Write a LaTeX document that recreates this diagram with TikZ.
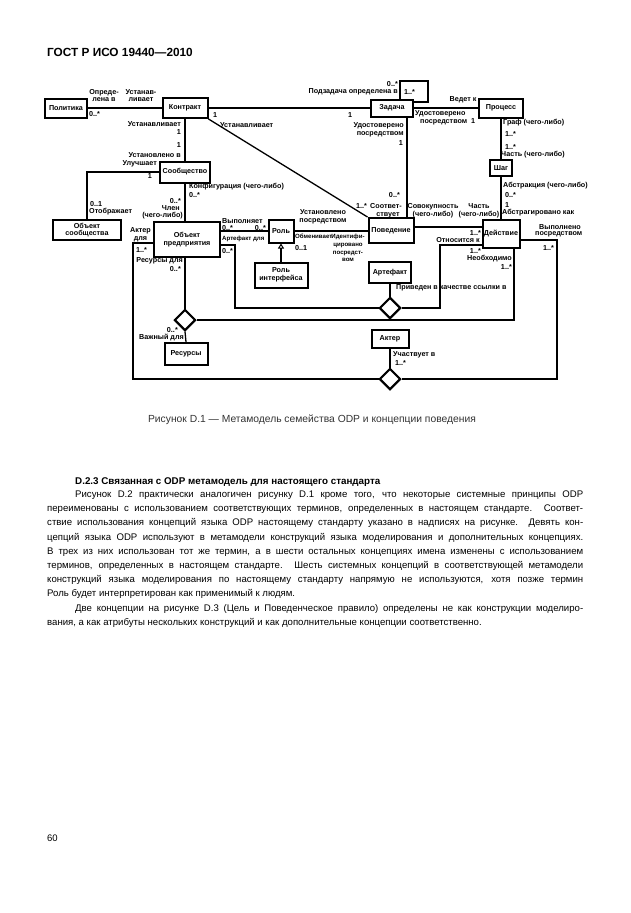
\documentclass[tikz,border=0pt]{standalone}
\usepackage{fontspec}
\setmainfont{Liberation Sans}
\usetikzlibrary{shapes.geometric,arrows.meta}
\newcommand\labf{\fontsize{7.2}{7.8}\selectfont\bfseries}
\newcommand\labs{\fontsize{6.1}{7.8}\selectfont\bfseries}
\newcommand\bodyf{\fontsize{9.6}{11}\selectfont}
\newcommand\jline[4]{\node[anchor=base west,inner sep=0pt] at (#2,#1) {\bodyf\makebox[#3pt][s]{#4}};}
\newcommand\lline[3]{\node[anchor=base west,inner sep=0pt] at (#2,#1) {\bodyf #3};}
\begin{document}
\begin{tikzpicture}[x=1pt,y=-1pt,
  ubox/.style={draw,line width=2pt,fill=white,inner sep=0pt,align=center,font=\labf},
  conn/.style={line width=1.3pt},
  dia/.style={draw,diamond,line width=2pt,fill=white,inner sep=0pt,minimum width=21pt,minimum height=21pt},
  lab/.style={inner sep=0pt,font=\labf,align=center},
  slab/.style={inner sep=0pt,font=\labs,align=center}]
\useasboundingbox (0,0) rectangle (630,913);
\fill[white] (0,0) rectangle (630,913);

% header, page number
\node[anchor=base west,inner sep=0pt,font=\fontsize{11.8}{13}\selectfont\bfseries] (hdr) at (47,56) {ГОСТ Р ИСО 19440—2010};
\node[anchor=base west,inner sep=0pt,font=\fontsize{9.5}{11}\selectfont] (pg) at (47,841) {60};

% boxes
\node[ubox,minimum width=42pt,minimum height=19pt] (pol) at (66,108) {Политика};
\node[ubox,minimum width=45pt,minimum height=20pt] (kon) at (185,108) {Контракт};
\node[ubox,minimum width=42pt,minimum height=17pt] (zad) at (392,108) {Задача};
\node[ubox,minimum width=44pt,minimum height=19pt] (proc) at (501,108) {Процесс};
\node[ubox,minimum width=50pt,minimum height=21pt] (soob) at (185,172) {Сообщество};
\node[ubox,minimum width=22pt,minimum height=16pt] (shag) at (501,168) {Шаг};
\node[ubox,minimum width=68pt,minimum height=20pt] (osoob) at (87,230) {Объект\\сообщества};
\node[ubox,minimum width=66pt,minimum height=35pt] (opred) at (187,239.5) {Объект\\предприятия};
\node[ubox,minimum width=25pt,minimum height=23pt] (rol) at (281,231) {Роль};
\node[ubox,minimum width=53pt,minimum height=25pt] (rolif) at (281,275) {Роль\\интерфейса};
\node[ubox,minimum width=45pt,minimum height=25pt] (pov) at (391,230.5) {Поведение};
\node[ubox,minimum width=37pt,minimum height=28pt] (deyst) at (501,234) {Действие};
\node[ubox,minimum width=42pt,minimum height=21pt] (art) at (390,272.5) {Артефакт};
\node[ubox,minimum width=43pt,minimum height=22pt] (res) at (186,354) {Ресурсы};
\node[ubox,minimum width=37pt,minimum height=18pt] (akt) at (390,339) {Актер};
\node[dia] (d1) at (390,308) {};
\node[dia] (d2) at (185,320) {};
\node[dia] (d3) at (390,379) {};

% helper coordinates
\coordinate (zv) at (407,0);
\coordinate (l1) at (400,81);
\coordinate (l2) at (428,102);
\coordinate (c227) at (0,227);
\coordinate (a1) at (235,245);
\coordinate (a2) at (440,245);
\coordinate (a3) at (514,320);
\coordinate (a4) at (133,243);
\coordinate (a5) at (557,240);

% connectors
\draw[conn] (pol.east) -- (kon.west);
\draw[conn] (kon.east) -- (zad.west);
\draw[conn] (zad.east) -- (proc.west);
\draw[conn] (zad.north -| l1) |- (l2 |- l1) -- (l2) -- (zad.east |- l2);
\draw[conn] (kon.south) -- (soob.north);
\draw[conn] (soob.west) -| (osoob.north);
\draw[conn] (soob.south) -- (soob.south |- opred.north);
\draw[conn] (kon.south east) -- (pov.north west);
\draw[conn] (zad.south -| zv) -- (pov.north -| zv);
\draw[conn] (proc.south) -- (shag.north);
\draw[conn] (shag.south) -- (deyst.north);
\draw[conn] (opred.east |- rol.west) -- (rol.west);
\draw[conn] (rol.east) -- (pov.west |- rol.east);
\draw[conn,-{Triangle[open,width=6pt,length=5pt,line width=1pt]}] (rolif.north) -- (rol.south);
\draw[conn] (pov.east |- c227) -- (deyst.west |- c227);
\draw[conn] (opred.east |- a1) -- (a1) |- (d1.west);
\draw[conn] (deyst.west |- a2) -- (a2) |- (d1.east);
\draw[conn] (deyst.south -| a3) -- (a3) -- (d2.east);
\draw[conn] (d2.north |- opred.south) -- (d2.north);
\draw[conn] (d2.south) -- (res.north);
\draw[conn] (art.south) -- (d1.north);
\draw[conn] (akt.south) -- (d3.north);
\draw[conn] (opred.west |- a4) -- (a4) |- (d3.west);
\draw[conn] (deyst.east |- a5) -- (a5) |- (d3.east);
\node[dia] at (d1) {};
\node[dia] at (d2) {};
\node[dia] at (d3) {};

% labels: top left
\node[lab] (t1) at (104,95.5) {Опреде-\\лена в};
\node[lab] (t2) at (141,95.5) {Устанав-\\ливает};
\node[lab,anchor=west] (t3) at (89,114) {0..*};
\node[lab,anchor=east] (t4) at (181,124) {Устанавливает};
\node[lab,anchor=east] (t5) at (181,132) {1};
\node[lab,anchor=east] (t6) at (181,145) {1};
\node[lab,anchor=east] (t7) at (181,155) {Установлено в};
\node[lab,anchor=east] (t8) at (157,164) {Улучшает};
\node[lab,anchor=east] (t9) at (152,176) {1};
\node[lab,anchor=west] (t10) at (90,204) {0..1};
\node[lab,anchor=west] (t11) at (89,212) {Отображает};
\node[lab,anchor=west] (t12) at (189,187) {Конфигурация (чего-либо)};
\node[lab,anchor=west] (t13) at (189,195) {0..*};
\node[lab,anchor=east] (t14) at (181,201) {0..*};
\node[lab,anchor=east] (t15) at (180,208) {Член};
\node[lab,anchor=east] (t16) at (183,216) {(чего-либо)};
% Kontrakt - Zadacha
\node[lab] (t17) at (215,115) {1};
\node[lab,anchor=west] (t18) at (220,125) {Устанавливает};
\node[lab] (t19) at (350,115) {1};
\node[lab,anchor=east] (t20) at (404,126) {Удостоверено};
\node[lab,anchor=east] (t21) at (404,134) {посредством};
\node[lab,anchor=east] (t22) at (403,143) {1};
% self loop
\node[lab,anchor=east] (t23) at (398,84) {0..*};
\node[lab,anchor=east] (t24) at (398,92) {Подзадача определена в};
\node[lab,anchor=west] (t25) at (404,92) {1..*};
% Zadacha - Process
\node[lab] (t26) at (463,100) {Ведет к};
\node[lab,anchor=west] (t27) at (415,114) {Удостоверено};
\node[lab,anchor=west] (t28) at (420,122) {посредством\ \ 1};
% Process - Shag - Deystvie
\node[lab,anchor=west] (t29) at (503,123) {Граф (чего-либо)};
\node[lab,anchor=west] (t30) at (505,134) {1..*};
\node[lab,anchor=west] (t31) at (505,147) {1..*};
\node[lab,anchor=west] (t32) at (501,155) {Часть (чего-либо)};
\node[lab,anchor=west] (t33) at (503,186) {Абстракция (чего-либо)};
\node[lab,anchor=west] (t34) at (505,195) {0..*};
\node[lab,anchor=west] (t35) at (505,205) {1};
\node[lab,anchor=west] (t36) at (502,213) {Абстрагировано как};
% Povedenie area
\node[lab,anchor=east] (t37) at (400,195) {0..*};
\node[lab,anchor=west] (t38) at (356,206) {1..*};
\node[lab,anchor=west] (t39) at (370,206) {Соответ-};
\node[lab] (t40) at (388,215) {ствует};
\node[lab] (t41) at (433,210.5) {Совокупность\\(чего-либо)};
\node[lab] (t42) at (479,210.5) {Часть\\(чего-либо)};
\node[lab,anchor=east] (t43) at (481,233) {1..*};
\node[lab] (t44) at (458,240) {Относится к};
\node[lab,anchor=east] (t45) at (481,251) {1..*};
\node[lab,anchor=east] (t46) at (512,259) {Необходимо};
\node[lab,anchor=east] (t47) at (512,267) {1..*};
\node[lab,anchor=west] (t48) at (539,227) {Выполнено};
\node[lab,anchor=west] (t49) at (535,234.5) {посредством};
\node[lab,anchor=west] (t50) at (543,248) {1..*};
% Rol area
\node[lab] (t51) at (323,217) {Установлено\\посредством};
\node[slab,anchor=west] (t52) at (295,236) {Обменивает};
\node[slab] (t53) at (348,248) {Идентифи-\\цировано\\посредст-\\вом};
\node[lab,anchor=west] (t54) at (295,248) {0..1};
\node[lab,anchor=west] (t55) at (222,221) {Выполняет};
\node[lab,anchor=west] (t56) at (222,228) {0..*};
\node[lab,anchor=east] (t57) at (266,228) {0..*};
\node[slab,anchor=west] (t58) at (222,239) {Артефакт для};
\node[lab,anchor=west] (t59) at (222,251) {0..*};
% Objekt predpr. left/bottom
\node[lab,anchor=east] (t60) at (151,235) {Актер\\для};
\node[lab,anchor=west] (t61) at (136,250) {1..*};
\node[lab,anchor=east] (t62) at (183,261) {Ресурсы для};
\node[lab,anchor=east] (t63) at (181,269) {0..*};
\node[lab,anchor=east] (t64) at (178,330) {0..*};
\node[lab,anchor=east] (t65) at (184,338) {Важный для};
\node[lab,anchor=west] (t66) at (396,288) {Приведен в качестве ссылки в};
\node[lab,anchor=west] (t67) at (393,355) {Участвует в};
\node[lab,anchor=west] (t68) at (395,363) {1..*};

% caption
\node[anchor=base,inner sep=0pt,font=\fontsize{10.3}{12}\selectfont,text=black!80] (cap) at (312,422.5) {Рисунок D.1 — Метамодель семейства ODP и концепции поведения};

% section text
\node[anchor=base west,inner sep=0pt,font=\fontsize{9.8}{11}\selectfont\bfseries] (sec) at (75,484.5) {D.2.3 Связанная с ODP метамодель для настоящего стандарта};
\jline{497.5}{75}{508}{Рисунок D.2 практически аналогичен рисунку D.1 кроме того, что некоторые системные принципы ODP}
\jline{511.7}{47}{536}{переименованы с использованием соответствующих терминов, определенных в настоящем стандарте. Соответ-}
\jline{525.9}{47}{536}{ствие использования концепций языка ODP настоящему стандарту указано в надписях на рисунке. Девять кон-}
\jline{540.1}{47}{536}{цепций языка ODP используют в метамодели конструкций языка моделирования и дополнительных концепциях.}
\jline{554.3}{47}{536}{В трех из них использован тот же термин, а в шести остальных концепциях имена изменены с использованием}
\jline{568.5}{47}{536}{терминов, определенных в настоящем стандарте. Шесть системных концепций в соответствующей метамодели}
\jline{582.7}{47}{536}{конструкций языка моделирования по настоящему стандарту напрямую не используются, хотя позже термин}
\lline{596.9}{47}{Роль будет интерпретирован как применимый к людям.}
\jline{611.1}{75}{508}{Две концепции на рисунке D.3 (Цель и Поведенческое правило) определены не как конструкции моделиро-}
\lline{625.3}{47}{вания, а как атрибуты нескольких конструкций и как дополнительные концепции соответственно.}
\end{tikzpicture}
\end{document}
